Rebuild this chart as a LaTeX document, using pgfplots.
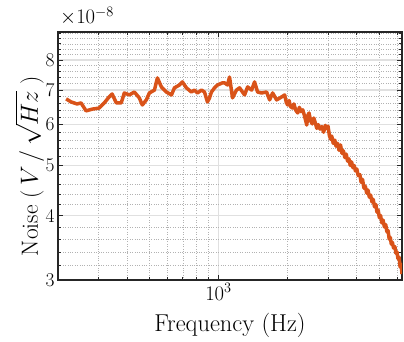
\documentclass[border=0pt]{standalone}
\usepackage{pgfplots}
\pgfplotsset{compat=1.18}
\definecolor{mlorange}{rgb}{0.85,0.325,0.098}
\begin{document}
\begin{tikzpicture}
\begin{axis}[
  at={(0,0)}, anchor=south west,
  xmode=log, ymode=log,
  scale only axis, width=344bp, height=248bp,
  xmin=200, xmax=6300, ymin=3, ymax=9.07,
  xtick={1000}, xticklabels={$10^3$},
  minor xtick={200,300,400,500,600,700,800,900,2000,3000,4000,5000,6000},
  ytick={3,4,5,6,7,8}, yticklabels={3,4,5,6,7,8},
  minor ytick={3.2,3.4,3.6,3.8,4.2,4.4,4.6,4.8,5.2,5.4,5.6,5.8,6.2,6.4,6.6,6.8,7.2,7.4,7.6,7.8,8.2,8.4,8.6,8.8,9.0},
  grid=both,
  major grid style={black!12, line width=1.6bp},
  minor grid style={black!30, dotted, line width=0.7bp},
  tick pos=both, tick align=inside,
  xticklabel pos=lower, yticklabel pos=left,
  major tick length=5bp, minor tick length=3bp,
  every tick/.style={black!85, line width=0.9bp},
  axis line style={black!85, line width=1.2bp},
  tick label style={font=\fontsize{19.5}{21}\selectfont},
  label style={font=\fontsize{24.5}{26}\selectfont},
  xlabel={Frequency (Hz)},
  ylabel={Noise ($\,V\,/\,\sqrt{H z}\;$)},
  xlabel style={at={(axis description cs:0.5,-0.185)}, anchor=center},
  ylabel style={at={(axis description cs:-0.082,0.46)}, anchor=center, inner sep=0pt, font=\fontsize{23.5}{25}\selectfont},
]
\addplot[color=mlorange, line width=3.5bp, line join=round, no markers] coordinates {
(217,6.73) (228,6.64) (242,6.58) (252,6.61) (265,6.38) (282,6.43) (302,6.46)
(318,6.61) (334,6.79) (344,6.88) (359,6.61) (377,6.61) (389,6.91) (409,6.85)
(430,6.94) (452,6.76) (466,6.55) (485,6.70) (500,6.91) (526,7.00) (542,7.39)
(564,7.10) (593,6.94) (624,6.85) (643,7.07) (676,7.16) (696,7.26) (725,7.07)
(762,6.94) (786,7.00) (810,6.91) (843,7.00) (869,6.94) (895,6.64) (914,6.76)
(932,6.94) (961,7.07) (990,7.16) (1041,7.23) (1062,7.23) (1095,7.16) (1117,7.42)
(1151,6.76) (1198,7.00) (1235,7.07) (1299,6.85) (1339,7.10) (1394,7.00) (1436,7.26)
(1480,6.94) (1541,6.91) (1620,6.94) (1670,6.70) (1721,6.91) (1792,6.70) (1884,6.79)
(1942,6.85) (1975,6.62) (2001,6.55) (2030,6.68) (2060,6.50) (2104,6.46) (2130,6.58)
(2170,6.40) (2213,6.32) (2250,6.48) (2290,6.36) (2327,6.41) (2360,6.28) (2400,6.10)
(2423,5.99) (2450,6.25) (2480,6.32) (2520,6.10) (2560,6.02) (2600,6.18) (2640,6.05)
(2680,5.90) (2720,6.00) (2770,5.88) (2820,5.95) (2870,5.80) (2920,5.98) (2960,5.90)
(3000,5.96) (3040,5.72) (3080,5.62) (3115,5.70) (3160,5.52) (3211,5.60) (3250,5.45)
(3300,5.52) (3350,5.35) (3400,5.48) (3450,5.28) (3500,5.34) (3550,5.18) (3600,5.26)
(3650,5.10) (3700,5.15) (3750,5.00) (3800,5.08) (3850,4.95) (3900,5.00) (3950,4.88)
(4005,4.92) (4060,4.78) (4128,4.80) (4180,4.64) (4240,4.70) (4300,4.52) (4360,4.56)
(4420,4.42) (4480,4.48) (4540,4.34) (4600,4.38) (4660,4.25) (4720,4.30) (4780,4.16)
(4850,4.20) (4900,4.06) (4960,4.10) (5020,3.96) (5080,4.00) (5150,3.87) (5210,3.92)
(5280,3.80) (5350,3.84) (5415,3.72) (5480,3.74) (5540,3.60) (5600,3.63) (5660,3.52)
(5720,3.55) (5790,3.46) (5868,3.48) (5930,3.38) (5990,3.40) (6050,3.30) (6120,3.32)
(6180,3.18) (6240,3.22) (6300,3.08)
};
\end{axis}
\node[anchor=base west, inner sep=0pt, font=\fontsize{22.5}{24}\selectfont] at (2bp,256bp) {$\times 10^{-8}$};
\pgfresetboundingbox
\path[use as bounding box] (-58bp,-62bp) rectangle (346bp,280bp);
\end{tikzpicture}
\end{document}
